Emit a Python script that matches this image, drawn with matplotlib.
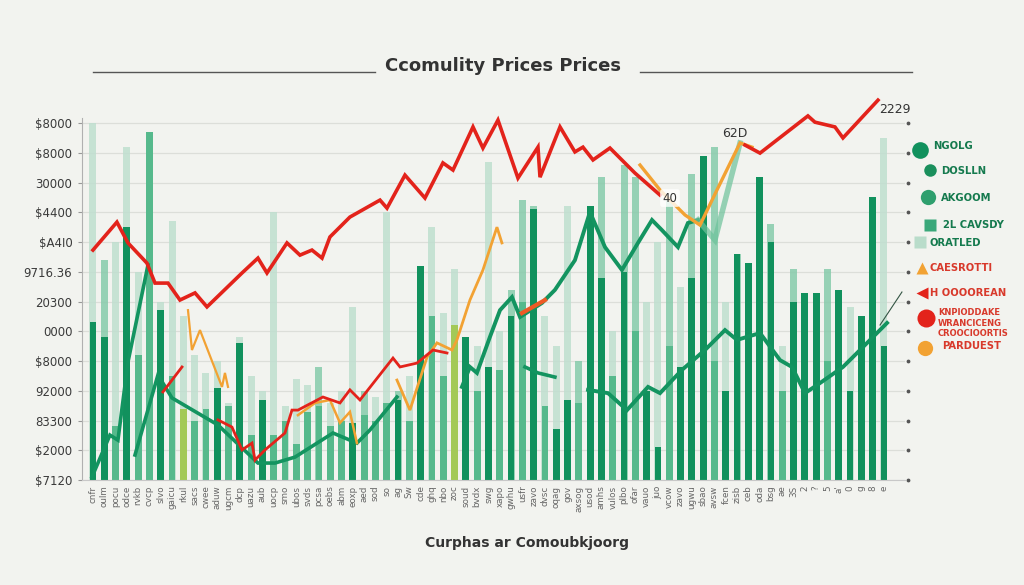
import matplotlib
matplotlib.use('Agg')
import matplotlib.pyplot as plt
import numpy as np

# ~~~~~~~~~~~~~~~~~~~~~~~~~~~~~~~~~~~~~~~~~~~~~~~~~~~~~~~~~~~~~~~~~~~~~~~~ #
# data (bar index units on x, tick units on y)
title = 'Ccomulity Prices Prices'
xlabel = 'Curphas ar Comoubkjoorg'

ytick_labels = ['$7120', '$2000', '83300', '92000', '$8000', '0000', '20300',
                '9716.36', '$A4I0', '$4400', '30000', '$8000', '$8000']

xtick_labels = ['cnfr', 'oulm', 'pocu', 'odce', 'rvkb', 'cvcp', 'slvo', 'gaicu',
                'rkul', 'sacs', 'cwee', 'aduw', 'ugcm', 'dcp', 'uazu', 'aub',
                'uocp', 'smo', 'ubos', 'svds', 'pcsa', 'oebs', 'abm', 'eoxp',
                'aed', 'sod', 'so', 'ag', 'Sw', 'cde', 'ghq', 'nbo', 'zoc',
                'soud', 'bvdx', 'swg', 'xapo', 'gwhu', 'usfr', 'zavo', 'dvsc',
                'oqag', 'gov', 'axsog', 'usod', 'amhs', 'vulos', 'plbo', 'ofar',
                'vauo', 'juo', 'vcow', 'zavo', 'ugwu', 'sbao', 'avsw', 'fcen',
                'zisb', 'ceb', 'oda', 'bsg', 'ae', '3S', '2', '?', '5', "a'",
                '0', 'g', '8', 'e']

back_bars = [12.0, 7.4, 8.0, 11.2, 7.0, 11.7, 6.0, 8.7, 5.5, 4.2, 3.6, 4.0, 2.6,
             4.8, 3.5, 3.0, 9.0, 2.5, 3.4, 3.2, 3.8, 2.6, 3.0, 5.8, 3.0, 2.8,
             9.0, 3.0, 3.5, 7.2, 8.5, 5.6, 7.1, 4.0, 4.5, 10.7, 5.0, 6.4, 9.4,
             9.2, 5.5, 4.5, 9.2, 4.0, 9.2, 10.2, 5.0, 10.6, 10.2, 6.0, 8.0, 9.4,
             6.5, 10.3, 10.9, 11.2, 6.0, 7.6, 7.3, 10.2, 8.6, 4.5, 7.1, 6.3,
             6.3, 7.1, 6.4, 5.8, 5.5, 9.5, 11.5]
front_bars = [5.3, 4.8, 1.8, 8.5, 4.2, 11.7, 5.7, 3.5, 2.4, 2.0, 2.4, 3.1, 2.5,
              4.6, 1.5, 2.7, 1.5, 2.0, 1.2, 2.3, 2.5, 1.8, 2.0, 1.9, 2.2, 2.0,
              2.6, 2.7, 2.0, 7.2, 5.5, 3.5, 5.2, 4.8, 3.0, 3.8, 3.7, 5.5, 6.0,
              9.1, 2.5, 1.7, 2.7, 2.6, 9.2, 6.8, 3.5, 7.0, 5.0, 3.0, 1.1, 4.5,
              3.8, 6.8, 10.9, 4.0, 3.0, 7.6, 7.3, 10.2, 8.0, 3.0, 6.0, 6.3, 6.3,
              4.0, 6.4, 3.0, 5.5, 9.5, 4.5]

# line series: (x positions, values)
red_x = [0.0, 2.12, 3.10, 4.78, 5.49, 6.64, 7.70, 9.03, 10.09, 13.19, 14.60,
         15.40, 17.17, 18.32, 19.38, 20.27, 20.97, 22.74, 25.40, 26.02, 27.61,
         29.38, 30.97, 31.86, 33.63, 34.51, 35.84, 37.61, 39.38, 39.56, 41.33,
         42.65, 43.36, 44.25, 45.75, 47.96, 50.18]
red_y = [7.73, 8.67, 7.97, 7.29, 6.62, 6.62, 6.05, 6.29, 5.82, 6.96, 7.46,
         6.96, 7.97, 7.56, 7.73, 7.46, 8.17, 8.84, 9.41, 9.14, 10.25, 9.48,
         10.66, 10.42, 11.87, 11.16, 12.10, 10.15, 11.19, 10.18, 11.87, 11.03,
         11.19, 10.76, 11.16, 10.32, 9.58]
red_end_x = [57.70, 59.03, 63.27, 63.89, 65.66, 66.37, 69.47]
red_end_y = [11.26, 10.99, 12.24, 12.03, 11.87, 11.50, 12.77]
red_low_x = [11.06, 12.30, 13.19, 14.07, 14.34, 15.22, 16.99, 17.61, 18.14,
             20.35, 21.86, 22.74, 23.63, 26.55, 27.17, 28.67, 30.09, 31.33]
red_low_y = [2.02, 1.78, 1.01, 1.24, 0.67, 1.01, 1.58, 2.35, 2.35, 2.79, 2.59,
             3.03, 2.69, 4.10, 3.80, 3.93, 4.37, 4.27]
red_bit_x = [6.19, 7.88]
red_bit_y = [2.96, 3.80]
red_mid_x = [37.96, 40.0]
red_mid_y = [5.61, 6.05]

green_a_x = [-0.09, 1.50, 2.21, 3.10, 4.87]
green_a_y = [0.10, 1.51, 1.34, 3.97, 7.23]
green_b_x = [3.72, 5.75, 6.99, 11.06, 14.60, 16.11, 17.88, 21.24, 23.36, 24.51, 26.90]
green_b_y = [0.84, 3.53, 2.76, 1.85, 0.57, 0.57, 0.77, 1.58, 1.24, 1.68, 2.79]
green_c_x = [32.65, 33.36, 33.98, 35.13, 36.02, 37.08, 37.79, 39.73, 40.88,
             42.65, 43.98, 45.31, 46.81, 48.23, 49.47, 50.35, 51.77, 52.65, 53.54]
green_c_y = [3.13, 3.80, 3.60, 4.81, 5.71, 6.15, 5.48, 5.95, 6.39, 7.39, 9.01,
             7.83, 7.06, 7.97, 8.74, 8.40, 7.83, 8.64, 8.74]
green_pale_x = [53.54, 55.04, 57.26]
green_pale_y = [8.74, 8.07, 11.33]
green_d_x = [38.23, 39.38, 40.88]
green_d_y = [3.80, 3.60, 3.46]
green_e_x = [43.81, 45.58, 47.26, 49.12, 50.18, 52.12, 54.16, 55.93, 56.99,
             59.03, 60.80, 61.86, 63.01, 64.34, 66.37, 67.88, 70.27]
green_e_y = [3.03, 2.92, 2.35, 3.13, 2.92, 3.70, 4.37, 5.04, 4.71, 4.94, 4.03,
             3.80, 2.92, 3.26, 3.80, 4.37, 5.28]
thin_x = [69.65, 71.59]
thin_y = [5.21, 6.32]

orange_a_x = [8.41, 8.76, 9.47, 11.42, 11.68, 11.95]
orange_a_y = [5.71, 4.37, 5.04, 3.13, 3.60, 3.13]
orange_b_x = [18.14, 19.65, 20.97, 21.86, 22.74, 23.36]
orange_b_y = [2.18, 2.59, 2.69, 1.92, 2.29, 1.24]
orange_c_x = [26.90, 28.05, 29.56, 30.44, 31.77, 32.21, 33.36, 34.51, 35.75, 36.19]
orange_c_y = [3.36, 2.35, 4.13, 4.61, 4.37, 4.71, 6.05, 7.06, 8.50, 7.97]
orange_d_x = [48.41, 50.18, 52.39, 53.72, 55.22, 57.26, 58.32]
orange_d_y = [10.59, 9.75, 8.91, 8.57, 9.75, 11.33, 11.19]

legend_labels = ['NGOLG', 'DOSLLN', 'AKGOOM', '2L CAVSDY', 'ORATLED',
                 'CAESROTTI', 'H OOOOREAN', 'KNPIODDAKE\nWRANCICENG\nCROOCIOORTIS',
                 'PARDUEST']

# styles
BG = '#f2f3ef'
RED = '#e3231b'
GREEN = '#139460'
ORANGE = '#f2a233'
shade_back = 'pmpppmpppp' 'pppppppppp' 'mpppmppmpp' 'pppmpppmmm' 'pppmmmpmmp' \
             'pmpmmmpmmm' 'mpmmmmmpmmp'
shade_front = 'ddmdmmdmom' 'mdmdmdmmmm' 'mmmdmmmdmd' 'mmodmdmdmd' 'mddmddmdmd' \
              'dmdddmdddd' 'dmdddmddddd'
back_col = {'p': '#bfdfcf', 'm': '#86cbab'}
front_col = {'d': '#11915d', 'm': '#56b98c', 'o': '#a3c957'}


def main():
    fig = plt.figure(figsize=(10.24, 5.85), dpi=100, facecolor=BG)
    ax = fig.add_axes([82 / 1024, 1 - 480 / 585, 823 / 1024, 362 / 585])
    ax.set_facecolor(BG)

    n = len(back_bars)
    xs = np.arange(n)
    ax.set_xlim(-0.97, 71.86)
    ax.set_ylim(0, 12.17)

    for t in range(13):
        ax.axhline(t, color='#dcded9', lw=0.9, zorder=0)

    ax.bar(xs, back_bars, width=0.62, color=[back_col[c] for c in shade_back],
           alpha=0.85, zorder=1)
    ax.bar(xs, front_bars, width=0.6, color=[front_col[c] for c in shade_front],
           zorder=2)

    kw = dict(solid_joinstyle='miter', clip_on=False, zorder=5)
    ax.plot(green_a_x, green_a_y, color=GREEN, lw=2.6, **kw)
    ax.plot(green_b_x, green_b_y, color=GREEN, lw=2.6, **kw)
    ax.plot(green_c_x, green_c_y, color=GREEN, lw=2.8, **kw)
    ax.plot(green_pale_x, green_pale_y, color='#6cc29a', lw=4, alpha=0.7, **kw)
    ax.plot(green_d_x, green_d_y, color=GREEN, lw=2.6, **kw)
    ax.plot(green_e_x, green_e_y, color=GREEN, lw=2.8, **kw)
    ax.plot(thin_x, thin_y, color='#335544', lw=0.8, **kw)

    ax.plot(orange_a_x, orange_a_y, color=ORANGE, lw=1.6, **kw)
    ax.plot(orange_b_x, orange_b_y, color=ORANGE, lw=1.8, **kw)
    ax.plot(orange_c_x, orange_c_y, color=ORANGE, lw=2.0, **kw)
    ax.plot(orange_d_x, orange_d_y, color=ORANGE, lw=2.4, **kw)

    ax.plot(red_x, red_y, color=RED, lw=2.6, **kw)
    ax.plot(red_end_x, red_end_y, color=RED, lw=2.6, **kw)
    ax.plot(red_low_x, red_low_y, color=RED, lw=2.0, **kw)
    ax.plot(red_bit_x, red_bit_y, color=RED, lw=2.0, **kw)
    ax.plot(red_mid_x, red_mid_y, color='#ee5a25', lw=3.0, **kw)

    ax.text(56.8, 11.66, '62D', fontsize=9, color='#333333', ha='center', va='center', zorder=6)
    ax.text(51.06, 9.48, '40', fontsize=8.5, color='#333333', ha='center', va='center', zorder=6,
            bbox=dict(boxstyle='round,pad=0.2', fc='white', ec='none', alpha=0.8))
    ax.text(71.0, 12.44, '2229', fontsize=9, color='#333333', ha='center', va='center',
            zorder=6, clip_on=False)

    # right-side dot ticks
    ax.scatter(np.full(13, 72.15), np.arange(13), s=3, color='#555555', clip_on=False)

    ax.set_yticks(range(13))
    ax.set_yticklabels(ytick_labels, fontsize=8.5, color='#3a3a3a')
    ax.set_xticks(xs)
    ax.set_xticklabels(xtick_labels, rotation=90, fontsize=6.3, color='#666666')
    ax.tick_params(axis='x', length=0, pad=4)
    ax.tick_params(axis='y', length=3, color='#999999', pad=4)
    for s in ['top', 'right']:
        ax.spines[s].set_visible(False)
    ax.spines['left'].set_color('#b0b0b0')
    ax.spines['bottom'].set_color('#c8c8c8')

    # overlay in pixel coords for title, x label and legend
    ov = fig.add_axes([0, 0, 1, 1], facecolor='none')
    ov.set_xlim(0, 1024)
    ov.set_ylim(585, 0)
    ov.axis('off')
    ov.text(503, 66, title, fontsize=13, color='#333333', ha='center', va='center',
            fontweight='semibold')
    ov.plot([93, 375], [72, 72], color='#555555', lw=1)
    ov.plot([640, 912], [72, 72], color='#555555', lw=1)
    ov.text(527, 543, xlabel, fontsize=10, color='#333333', ha='center', va='center',
            fontweight='semibold')

    marks = [('o', '#11915d', 12), ('o', '#1a8f5c', 9), ('o', '#2f9f6e', 11),
             ('s', '#3aa87a', 8), ('s', '#b9dcca', 9), ('^', ORANGE, 8),
             ('<', RED, 8), ('o', RED, 13), ('o', ORANGE, 11)]
    mark_y = [150, 170, 197, 225, 242, 268, 293, 318, 348]
    mark_x = [920, 930, 928, 930, 920, 922, 922, 926, 925]
    text_x = [933, 941, 941, 943, 930, 930, 930, 938, 942]
    text_y = [146, 171, 198, 225, 243, 268, 293, 323, 346]
    text_c = ['#157a4e'] * 5 + ['#d8392b'] * 4
    for i, lab in enumerate(legend_labels):
        m, c, s = marks[i]
        ov.plot(mark_x[i], mark_y[i], marker=m, color=c, ms=s, mec='none')
        fs = 6.0 if '\n' in lab else 7.2
        ov.text(text_x[i], text_y[i], lab, fontsize=fs, color=text_c[i],
                fontweight='bold', ha='left', va='center', linespacing=1.15)

    fig.savefig('out.png', dpi=100, facecolor=BG)


if __name__ == "__main__":
    main()
